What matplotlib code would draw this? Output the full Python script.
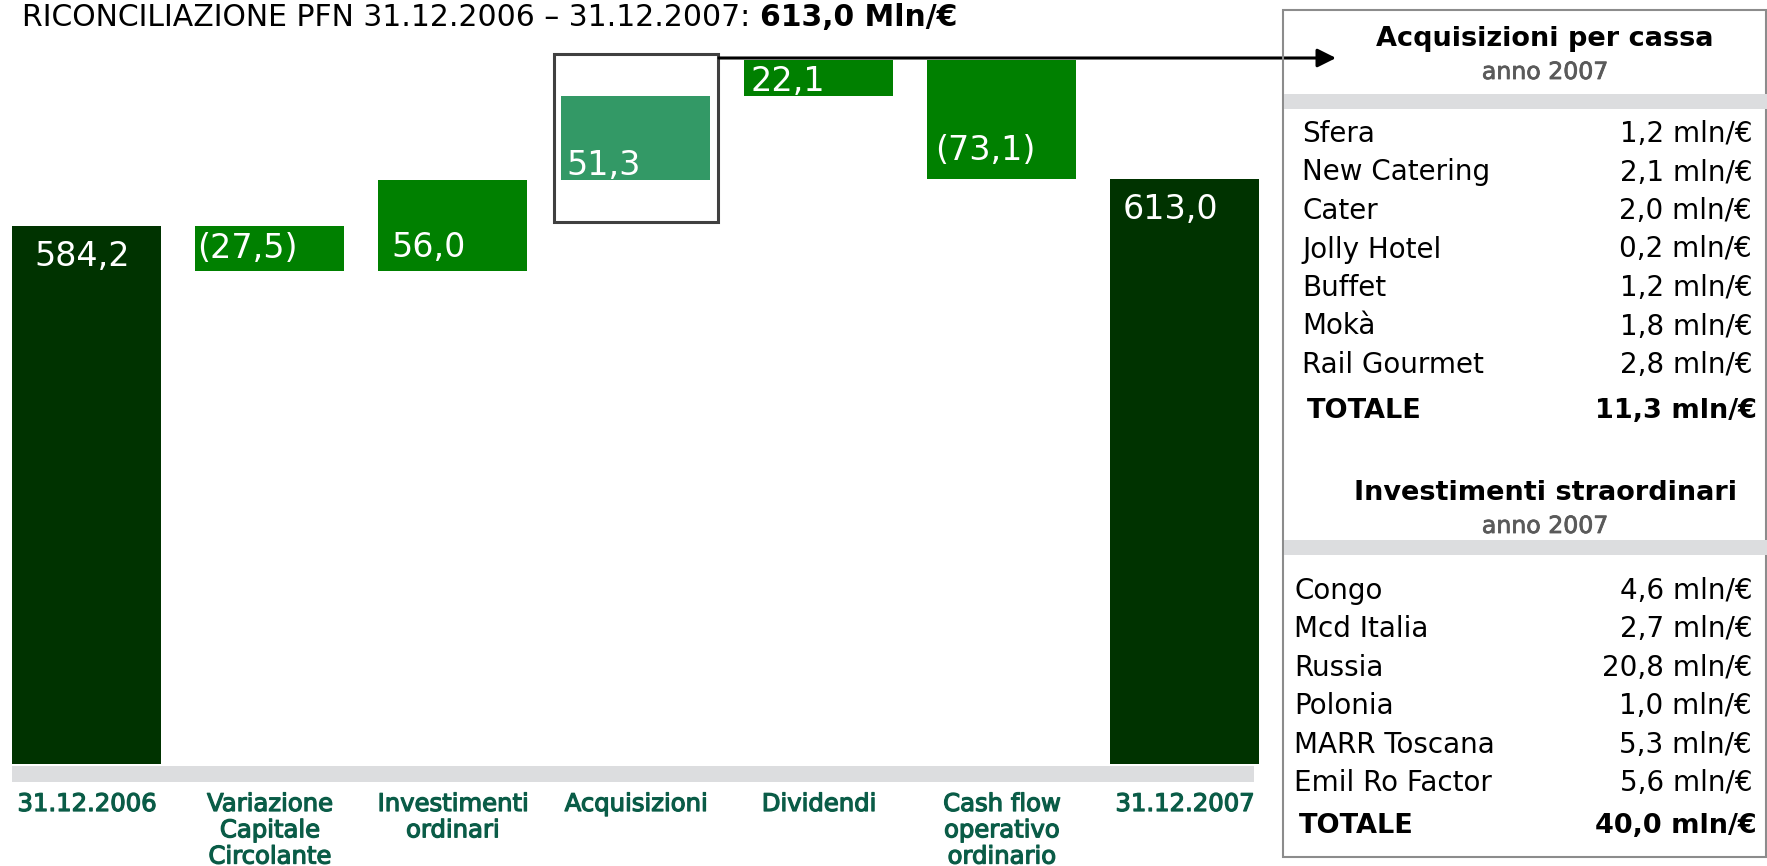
import matplotlib
matplotlib.use('Agg')
import matplotlib.pyplot as plt
import matplotlib.patheffects as pe
from matplotlib.patches import Rectangle, FancyArrowPatch

# waterfall data (mln/€)
categories = ['31.12.2006', 'Variazione\nCapitale\nCircolante', 'Investimenti\nordinari',
              'Acquisizioni', 'Dividendi', 'Cash flow\noperativo\nordinario', '31.12.2007']
values = [584.2, -27.5, 56.0, 51.3, 22.1, -73.1, 613.0]
is_total = [True, False, False, False, False, False, True]
value_labels = ['584,2', '(27,5)', '56,0', '51,3', '22,1', '(73,1)', '613,0']

# side panel data
acq_names = ['Sfera', 'New Catering', 'Cater', 'Jolly Hotel', 'Buffet', 'Mokà', 'Rail Gourmet']
acq_values = [1.2, 2.1, 2.0, 0.2, 1.2, 1.8, 2.8]
acq_total = 11.3
inv_names = ['Congo', 'Mcd Italia', 'Russia', 'Polonia', 'MARR Toscana', 'Emil Ro Factor']
inv_values = [4.6, 2.7, 20.8, 1.0, 5.3, 5.6]
inv_total = 40.0

W, H = 1767, 866
DARK = '#003300'
MID = '#008000'
HILITE = '#339966'
LABEL_GREEN = '#0a5c47'
BAND = '#dcdddf'


def fx(x):
    return x / W


def fy(y):
    return 1 - y / H


def mln(v):
    return f'{v:.1f}'.replace('.', ',') + ' mln/€'


fig = plt.figure(figsize=(W / 100, H / 100), dpi=100)
ax = fig.add_axes([0, fy(764), fx(1270), 764 / H])
floor = 254
ax.set_xlim(-0.475, 6.465)
ax.set_ylim(floor, 723)
ax.axis('off')

width = 0.814
running = 0
bars = []
for i, (v, tot) in enumerate(zip(values, is_total)):
    if tot:
        bottom, top = floor, v
        running = v
        color = DARK
    else:
        bottom, top = min(running, running + v), max(running, running + v)
        running += v
        color = HILITE if categories[i] == 'Acquisizioni' else MID
    ax.bar(i, top - bottom, bottom=bottom, width=width, color=color, zorder=2)
    bars.append((bottom, top))

# value labels inside bars (offsets in px)
label_dx = [22, 2, 13, 5, 6, 8, 12]
label_dy = [-40, 13, 14, 5, 5, 19, -40]
for i, lab in enumerate(value_labels):
    bottom, top = bars[i]
    anchor_y = top if is_total[i] else bottom
    ax.annotate(lab, xy=(i - width / 2, anchor_y), xytext=(label_dx[i] * 0.72, label_dy[i] * 0.72),
                textcoords='offset points', color='white', fontsize=24,
                ha='left', va='baseline', zorder=3)

# category labels
for i, cat in enumerate(categories):
    x_px = (i + 0.475) / 6.94 * 1270
    fig.text(fx(x_px), fy(792), cat, ha='center', va='top', fontsize=17.5,
             color=LABEL_GREEN, linespacing=1.12,
             path_effects=[pe.withStroke(linewidth=0.9, foreground=LABEL_GREEN)])

# grey base band
fig.add_artist(Rectangle((fx(12), fy(782)), fx(1254 - 12), 16 / H,
                         transform=fig.transFigure, color=BAND, lw=0))

# highlight box around Acquisizioni
k = categories.index('Acquisizioni')
b, t = bars[k]
ax.add_patch(Rectangle((k - width / 2 - 0.04, b - 26), width + 0.08, t - b + 52,
                       fill=False, edgecolor='#404040', lw=2.2, zorder=4, clip_on=False))

# arrow to side panel
fig.add_artist(FancyArrowPatch((fx(719), fy(58)), (fx(1336), fy(58)), transform=fig.transFigure,
                               arrowstyle='-|>', mutation_scale=28, color='black', lw=2.2,
                               shrinkA=0, shrinkB=0))

# title
r = fig.canvas.get_renderer()
t1 = fig.text(fx(22), fy(26), 'RICONCILIAZIONE PFN 31.12.2006 – 31.12.2007: ',
              fontsize=21.5, va='baseline', ha='left')
bb = t1.get_window_extent(renderer=r)
fig.text(bb.x1 / W, fy(26), '613,0 Mln/€', fontsize=21.5, fontweight='bold',
         va='baseline', ha='left')

# side panel
fig.add_artist(Rectangle((fx(1283), fy(857)), fx(1766 - 1283), (857 - 10) / H,
                         transform=fig.transFigure, fill=False, edgecolor='#8c8c8c', lw=1.5))
for y0 in (94, 540):
    fig.add_artist(Rectangle((fx(1284), fy(y0 + 15)), fx(1767 - 1284), 15 / H,
                             transform=fig.transFigure, color=BAND, lw=0))


def section(title, head_y, names, vals, total, first_y, step, total_y, name_x):
    fig.text(fx(1545), fy(head_y), title, ha='center', va='baseline', fontsize=19.5,
             fontweight='bold')
    fig.text(fx(1545), fy(head_y + 33), 'anno 2007', ha='center', va='baseline',
             fontsize=17, color='#5a5a5a',
             path_effects=[pe.withStroke(linewidth=0.6, foreground='#5a5a5a')])
    for j, (n, v) in enumerate(zip(names, vals)):
        y = first_y + j * step
        fig.text(fx(name_x), fy(y), n, ha='left', va='baseline', fontsize=20)
        fig.text(fx(1752), fy(y), mln(v), ha='right', va='baseline', fontsize=20)
    fig.text(fx(name_x + 5), fy(total_y), 'TOTALE', ha='left', va='baseline',
             fontsize=19.5, fontweight='bold')
    fig.text(fx(1757), fy(total_y), mln(total), ha='right', va='baseline',
             fontsize=19.5, fontweight='bold')


section('Acquisizioni per cassa', 46, acq_names, acq_values, acq_total, 142, 38.5, 418, 1302)
section('Investimenti straordinari', 500, inv_names, inv_values, inv_total, 599, 38.4, 833, 1294)

fig.savefig('out.png', dpi=100)
